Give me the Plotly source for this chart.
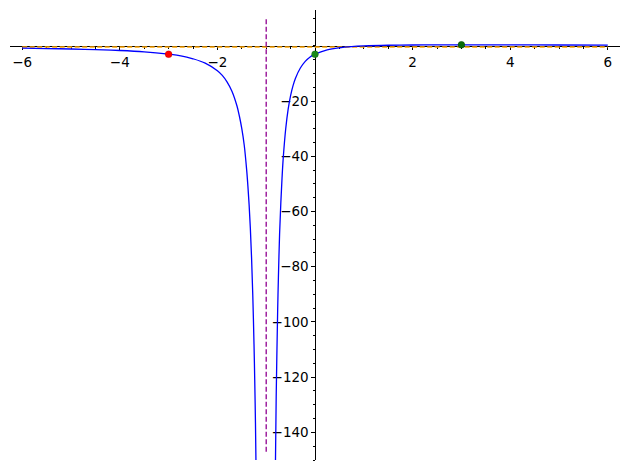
import plotly.graph_objects as go

# Curve values (left branch, right branch)
left_x = [-6.0, -5.5, -5.0, -4.5, -4.0, -3.5, -3.0, -2.75, -2.5, -2.25, -2.0, -1.9, -1.8, -1.7,
          -1.6, -1.55, -1.5, -1.45, -1.4, -1.375, -1.35, -1.325, -1.3, -1.275, -1.25, -1.235, -1.22, -1.21]
left_y = [-0.84, -0.96, -1.12, -1.35, -1.67, -2.16, -3.0, -3.58, -4.67, -6.24, -9.0, -10.7, -13.1, -16.5,
          -21.7, -25.4, -30.0, -36.0, -45.0, -50.8, -57.6, -66.0, -76.7, -90.3, -108.0, -121.0, -136.4, -150.3]
right_x = [-0.81, -0.795, -0.78, -0.765, -0.75, -0.725, -0.7, -0.675, -0.65, -0.6, -0.55, -0.5, -0.45,
           -0.4, -0.3, -0.2, -0.1, 0.0, 0.25, 0.5, 0.75, 1.0, 1.5, 2.0, 2.5, 3.0, 4.0, 5.0, 6.0]
right_y = [-150.4, -126.9, -110.3, -95.7, -84.0, -67.8, -56.7, -47.7, -40.4, -30.0, -22.9, -18.0, -14.4,
           -11.7, -8.0, -5.6, -4.0, -3.0, -1.44, -0.67, -0.24, 0.0, 0.24, 0.33, 0.37, 0.375, 0.36, 0.33, 0.31]

# Asymptotes
vasym_x = [-1.0, -1.0]
vasym_y = [-147.0, 10.0]
hasym_x = [-6.0, 6.0]
hasym_y = [-0.4, -0.4]

# Marked points
pts_x = [-3.0, 0.0, 3.0]
pts_y = [-3.0, -3.0, 0.375]
pts_colors = ["#ff0000", "#1a8a1a", "#0a6a0a"]

# Ticks
x_tickvals = [-6, -4, -2, 2, 4, 6]
x_ticktext = ["\u22126", "\u22124", "\u22122", "2", "4", "6"]
y_tickvals = [-140, -120, -100, -80, -60, -40, -20]
y_ticktext = ["\u2212140", "\u2212120", "\u2212100", "\u221280", "\u221260", "\u221240", "\u221220"]

x_range = [-6.25, 6.25]
y_range = [-150.0, 13.0]

fig = go.Figure()
fig.add_trace(go.Scatter(x=hasym_x, y=hasym_y, mode="lines",
                         line=dict(color="#ffa500", width=1.3, dash="5px,2.5px"), hoverinfo="skip"))
fig.add_trace(go.Scatter(x=vasym_x, y=vasym_y, mode="lines",
                         line=dict(color="#900090", width=1.3, dash="5px,2.5px"), hoverinfo="skip"))
fig.add_trace(go.Scatter(x=left_x, y=left_y, mode="lines", line_shape="spline",
                         line=dict(color="#0000ff", width=1.3)))
fig.add_trace(go.Scatter(x=right_x, y=right_y, mode="lines", line_shape="spline",
                         line=dict(color="#0000ff", width=1.3)))
fig.add_trace(go.Scatter(x=pts_x, y=pts_y, mode="markers", cliponaxis=False,
                         marker=dict(color=pts_colors, size=7,
                                     line=dict(color="rgba(0,0,0,0.25)", width=0.5))))

xpos = (0 - x_range[0]) / (x_range[1] - x_range[0])
ypos = (0 - y_range[0]) / (y_range[1] - y_range[0])

fig.update_layout(
    width=621, height=462,
    margin=dict(l=2, r=9, t=2, b=10),
    paper_bgcolor="white", plot_bgcolor="white",
    showlegend=False,
    font=dict(family="DejaVu Sans", size=13.5, color="black"),
    xaxis=dict(range=x_range, anchor="free", position=ypos, showline=True, linecolor="black",
               linewidth=1.2, showgrid=False, zeroline=False, ticks="outside", ticklen=3.5,
               tickwidth=1, tickcolor="black", tickvals=x_tickvals, ticktext=x_ticktext,
               automargin=False,
               minor=dict(dtick=0.5, tick0=0, ticks="outside", ticklen=2, tickwidth=0.8,
                          tickcolor="black", showgrid=False),
               layer="below traces"),
    yaxis=dict(range=y_range, anchor="free", position=xpos, showline=True, linecolor="black",
               linewidth=1.2, showgrid=False, zeroline=False, ticks="outside", ticklen=3.5,
               tickwidth=1, tickcolor="black", tickvals=y_tickvals, ticktext=y_ticktext,
               automargin=False,
               minor=dict(dtick=5, tick0=0, ticks="outside", ticklen=2, tickwidth=0.8,
                          tickcolor="black", showgrid=False),
               layer="below traces"),
)

fig.write_html("out.html")
